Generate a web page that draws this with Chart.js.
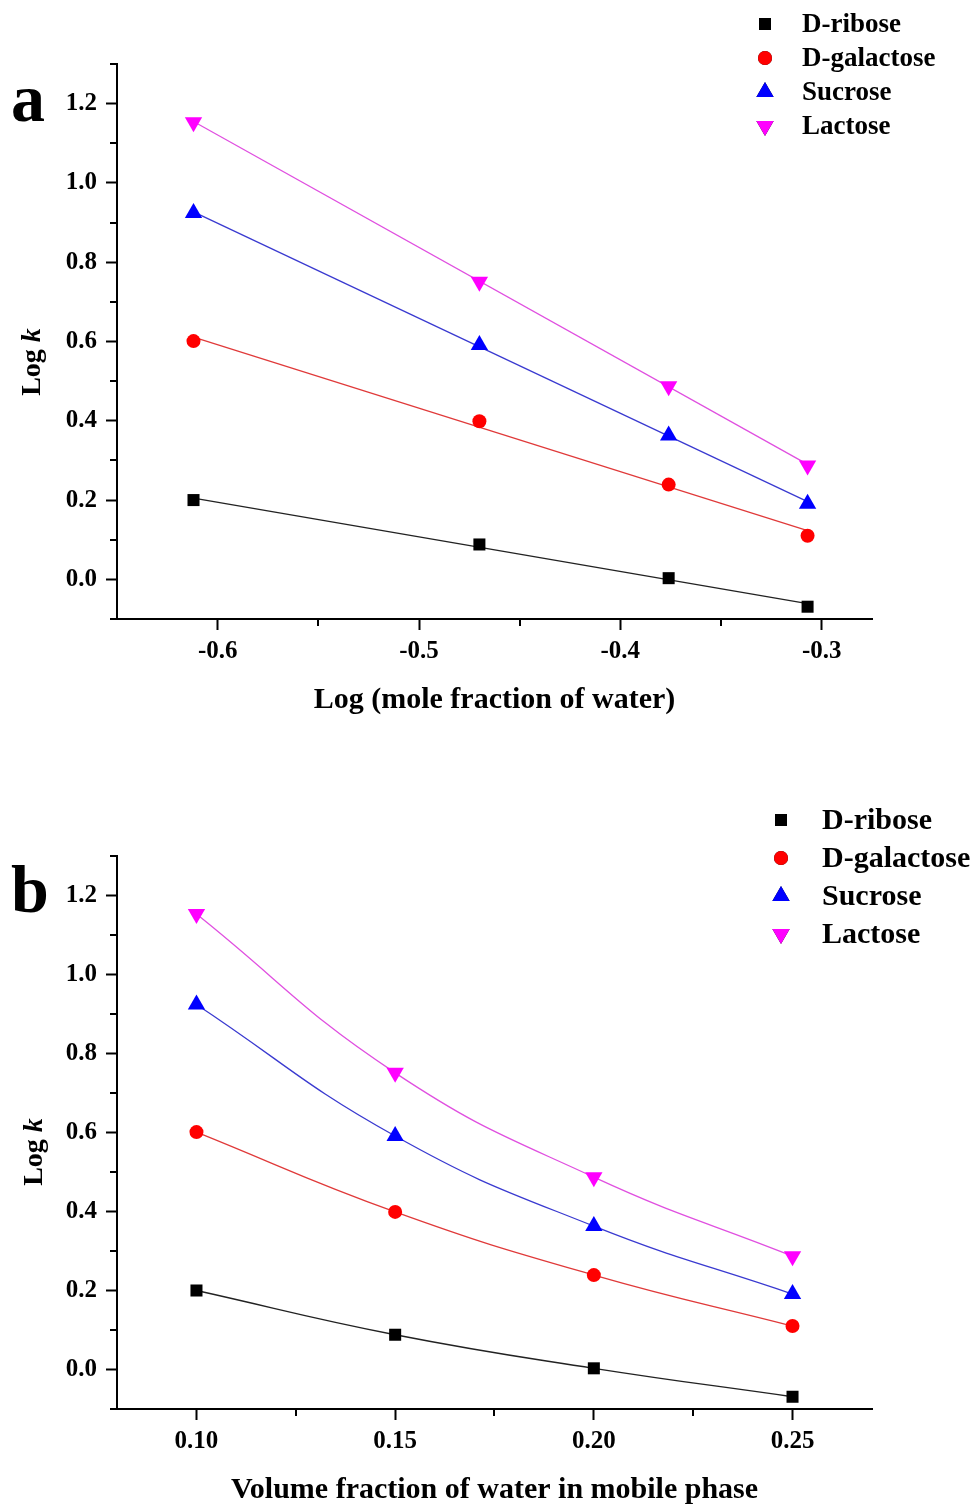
<!DOCTYPE html>
<html>
<head>
<meta charset="utf-8">
<script src="https://cdn.jsdelivr.net/npm/chart.js@4.4.0/dist/chart.umd.min.js"></script>
<style>
  body { margin: 0; background: #fff; }
  .panel { position: absolute; left: 0; }
</style>
</head>
<body>
<div class="panel" style="top:0"><canvas id="chartA" width="973" height="740"></canvas></div>
<div class="panel" style="top:760px"><canvas id="chartB" width="973" height="745"></canvas></div>
<script>
// Measured retention data (log k) for the four sugars
const seriesNames = ['D-ribose', 'D-galactose', 'Sucrose', 'Lactose'];
const logMoleFraction = [-0.612, -0.470, -0.376, -0.307];
const volumeFraction = [0.10, 0.15, 0.20, 0.25];
const ribose = [0.200, 0.088, 0.003, -0.069];
const galactose = [0.601, 0.399, 0.239, 0.110];
const sucrose = [0.924, 0.591, 0.363, 0.191];
const lactose = [1.153, 0.751, 0.487, 0.287];

// Linear fit lines in panel a (end values)
const fitX = [-0.612, -0.307];
const fitRibose = [0.205, -0.061];
const fitGalactose = [0.611, 0.123];
const fitSucrose = [0.927, 0.196];
const fitLactose = [1.155, 0.290];

// Axis ticks
const yTicks = [0.0, 0.2, 0.4, 0.6, 0.8, 1.0, 1.2];
const yMinor = [-0.1, 0.1, 0.3, 0.5, 0.7, 0.9, 1.1, 1.3];
const xTicksA = [-0.6, -0.5, -0.4, -0.3];
const xMinorA = [-0.55, -0.45, -0.35];
const xTicksB = [0.10, 0.15, 0.20, 0.25];
const xMinorB = [0.125, 0.175, 0.225];

const markerColors = ['#000000', '#ff0000', '#0000ff', '#ff00ff'];
const lineColors = ['#222222', '#e03a3a', '#3a3ad0', '#e050e0'];
const pointStyles = ['rect', 'circle', 'triangle', 'triangle'];
const pointRotations = [0, 0, 0, 180];
const pointRadii = [8.5, 7, 10, 10];

const FONT = "'Liberation Serif', 'Times New Roman', serif";

function pairs(xs, ys) {
  return xs.map((x, i) => ({ x: x, y: ys[i] }));
}

function pointDataset(i, xs, ys, smooth) {
  return {
    label: seriesNames[i],
    data: pairs(xs, ys),
    showLine: smooth,
    tension: 0.45,
    borderColor: lineColors[i],
    borderWidth: 1.3,
    backgroundColor: markerColors[i],
    pointBorderColor: markerColors[i],
    pointBackgroundColor: markerColors[i],
    pointStyle: pointStyles[i],
    pointRotation: pointRotations[i],
    pointRadius: pointRadii[i],
    pointBorderWidth: 0,
  };
}

function fitDataset(i, ys) {
  return {
    label: seriesNames[i] + ' fit',
    data: pairs(fitX, ys),
    showLine: true,
    borderColor: lineColors[i],
    borderWidth: 1.3,
    pointRadius: 0,
  };
}

// draws minor ticks, legend, axis titles and the panel letter
function makeDecor(s) {
  return {
    id: 'decor',
    afterDraw(chart) {
      const ctx = chart.ctx;
      const area = chart.chartArea;
      const xs = chart.scales.x, ys = chart.scales.y;
      ctx.save();
      ctx.strokeStyle = '#000';
      ctx.lineWidth = 2;
      s.xMinor.forEach(v => {
        const px = Math.round(xs.getPixelForValue(v));
        ctx.beginPath();
        ctx.moveTo(px, area.bottom);
        ctx.lineTo(px, area.bottom + 7);
        ctx.stroke();
      });
      yMinor.forEach(v => {
        const py = Math.round(ys.getPixelForValue(v));
        ctx.beginPath();
        ctx.moveTo(area.left, py);
        ctx.lineTo(area.left - 7, py);
        ctx.stroke();
      });

      // legend
      ctx.fillStyle = '#000';
      ctx.textBaseline = 'middle';
      ctx.textAlign = 'left';
      ctx.font = `bold ${s.legendFont}px ${FONT}`;
      seriesNames.forEach((name, i) => {
        const y = s.legendY + i * s.legendGap;
        Chart.helpers.drawPoint(ctx, {
          pointStyle: pointStyles[i],
          rotation: pointRotations[i],
          radius: pointRadii[i],
          borderWidth: 0,
        }, s.legendX, y);
        ctx.fillStyle = markerColors[i];
        ctx.fill();
        ctx.fillStyle = '#000';
        ctx.fillText(name, s.legendTextX, y + 1);
      });

      // x title
      ctx.textAlign = 'center';
      ctx.font = `bold ${s.titleFont}px ${FONT}`;
      ctx.fillText(s.xTitle, (area.left + area.right) / 2, s.xTitleY);

      // y title "Log k" with italic k
      ctx.save();
      ctx.translate(s.yTitleX, s.yTitleY);
      ctx.rotate(-Math.PI / 2);
      ctx.textAlign = 'left';
      ctx.font = `bold 28px ${FONT}`;
      const w1 = ctx.measureText('Log ').width;
      ctx.font = `bold italic 28px ${FONT}`;
      const w2 = ctx.measureText('k').width;
      const start = -(w1 + w2) / 2;
      ctx.font = `bold 28px ${FONT}`;
      ctx.fillText('Log ', start, 0);
      ctx.font = `bold italic 28px ${FONT}`;
      ctx.fillText('k', start + w1, 0);
      ctx.restore();

      // panel letter
      ctx.textAlign = 'left';
      ctx.textBaseline = 'alphabetic';
      ctx.font = `bold 68px ${FONT}`;
      ctx.fillText(s.letter, 11, s.letterY);
      ctx.restore();
    }
  };
}

function makeChart(id, s) {
  const tickFont = { family: FONT, weight: 'bold', size: 25 };
  new Chart(document.getElementById(id), {
    type: 'scatter',
    data: { datasets: s.datasets },
    options: {
      responsive: false,
      animation: false,
      layout: { padding: { top: s.top, right: 101, left: 0, bottom: 0 } },
      plugins: { legend: { display: false }, tooltip: { enabled: false } },
      scales: {
        x: {
          type: 'linear',
          min: s.xMin,
          max: s.xMax,
          afterBuildTicks: scale => { scale.ticks = s.xTicks.map(v => ({ value: v })); },
          afterFit: scale => { scale.height = s.xHeight; },
          border: { display: true, color: '#000', width: 2 },
          grid: { drawOnChartArea: false, drawTicks: true, tickLength: 11, tickColor: '#000', tickWidth: 2 },
          ticks: {
            color: '#000', font: tickFont, padding: 7, maxRotation: 0, autoSkip: false,
            callback: v => v.toFixed(s.xDigits)
          }
        },
        y: {
          type: 'linear',
          min: -0.1,
          max: 1.3,
          afterBuildTicks: scale => { scale.ticks = yTicks.map(v => ({ value: v })); },
          afterFit: scale => { scale.width = 117; },
          border: { display: true, color: '#000', width: 2 },
          grid: { drawOnChartArea: false, drawTicks: true, tickLength: 11, tickColor: '#000', tickWidth: 2 },
          ticks: {
            color: '#000', font: tickFont, padding: 9, autoSkip: false,
            callback: v => v.toFixed(1)
          }
        }
      }
    },
    plugins: [makeDecor(s)]
  });
}

makeChart('chartA', {
  datasets: [
    pointDataset(0, logMoleFraction, ribose, false),
    pointDataset(1, logMoleFraction, galactose, false),
    pointDataset(2, logMoleFraction, sucrose, false),
    pointDataset(3, logMoleFraction, lactose, false),
    fitDataset(0, fitRibose),
    fitDataset(1, fitGalactose),
    fitDataset(2, fitSucrose),
    fitDataset(3, fitLactose),
  ],
  top: 64, xHeight: 121,
  xMin: -0.65, xMax: -0.275, xTicks: xTicksA, xMinor: xMinorA, xDigits: 1,
  xTitle: 'Log (mole fraction of water)', xTitleY: 700, titleFont: 30,
  yTitleX: 33, yTitleY: 362,
  legendX: 765, legendY: 24, legendGap: 34, legendTextX: 802, legendFont: 27,
  letter: 'a', letterY: 121
});

makeChart('chartB', {
  datasets: [
    pointDataset(0, volumeFraction, ribose, true),
    pointDataset(1, volumeFraction, galactose, true),
    pointDataset(2, volumeFraction, sucrose, true),
    pointDataset(3, volumeFraction, lactose, true),
  ],
  top: 96, xHeight: 96,
  xMin: 0.08, xMax: 0.27, xTicks: xTicksB, xMinor: xMinorB, xDigits: 2,
  xTitle: 'Volume fraction of water in mobile phase', xTitleY: 730, titleFont: 30,
  yTitleX: 35, yTitleY: 392,
  legendX: 781, legendY: 60, legendGap: 38, legendTextX: 822, legendFont: 30,
  letter: 'b', letterY: 152
});
</script>
</body>
</html>
